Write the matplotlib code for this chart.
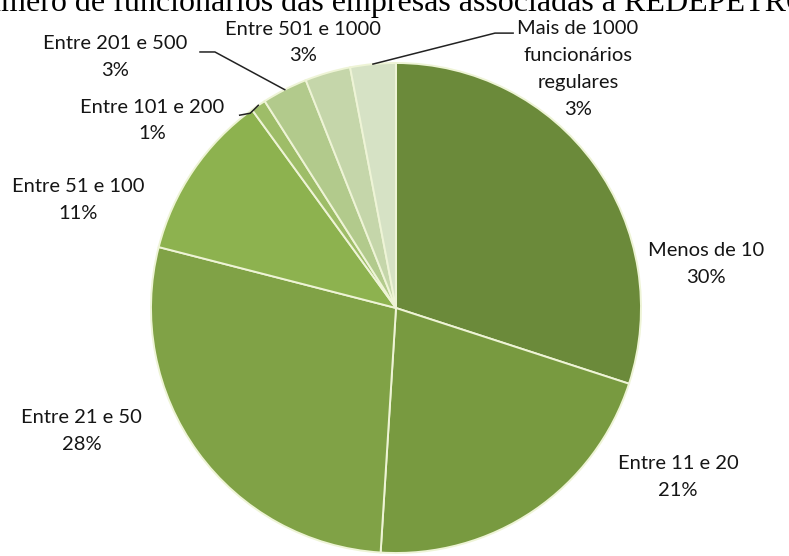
import numpy as np
import matplotlib
matplotlib.use("Agg")
import matplotlib.pyplot as plt

plt.rcParams['font.family'] = ['Lato', 'DejaVu Sans']

# dados
categorias = ['Menos de 10', 'Entre 11 e 20', 'Entre 21 e 50', 'Entre 51 e 100',
              'Entre 101 e 200', 'Entre 201 e 500', 'Entre 501 e 1000',
              'Mais de 1000\nfuncionários\nregulares']
percentuais = [30, 21, 28, 11, 1, 3, 3, 3]
cores = ['#6B8A3A', '#789A40', '#80A246', '#8DB24F', '#9EBD68', '#B2CA8C', '#C5D6AA', '#D6E2C5']
titulo = 'Número de funcionários das empresas associadas à REDEPETRO'

# posição dos rótulos (raio do gráfico = 1)
pos_rotulos = [(1.265, 0.178), (1.151, -0.690), (-1.282, -0.502), (-1.298, 0.440),
               (-0.996, 0.765), (-1.147, 1.025), (-0.380, 1.084), (0.743, 0.975)]
# rótulos com linha de chamada: (cotovelo, fim) em unidades do raio
chamadas = {4: ((-0.595, 0.795), (-0.638, 0.787)),
            5: ((-0.739, 1.045), (-0.800, 1.045)),
            7: ((0.404, 1.122), (0.478, 1.122))}

W, H = 789, 556
cx, cy, R = 396, 308, 245

fig = plt.figure(figsize=(W / 100, H / 100), dpi=100)
ax = fig.add_axes([0, 0, 1, 1])
wedges, _ = ax.pie(percentuais, colors=cores, startangle=90, counterclock=False,
                   radius=1, wedgeprops=dict(edgecolor='#EEF4D6', linewidth=1.4))
ax.set_xlim(-cx / R, (W - cx) / R)
ax.set_ylim(-(H - cy) / R, cy / R)
ax.set_aspect('equal')
ax.axis('off')

for i, (cat, p) in enumerate(zip(categorias, percentuais)):
    x, y = pos_rotulos[i]
    ax.text(x, y, f'{cat}\n{p}%', ha='center', va='center', fontsize=14.5,
            linespacing=1.7, color='#151515')
    if i in chamadas:
        w = wedges[i]
        ang = np.deg2rad((w.theta1 + w.theta2) / 2)
        (ex, ey), (fx, fy) = chamadas[i]
        ax.plot([np.cos(ang), ex, fx], [np.sin(ang), ey, fy], color='#222222', lw=1.1)

fig.text(-38 / W, 545 / H, titulo, ha='left', va='baseline',
         fontsize=23, family='Liberation Serif', color='black')

fig.savefig('out.png', dpi=100)
